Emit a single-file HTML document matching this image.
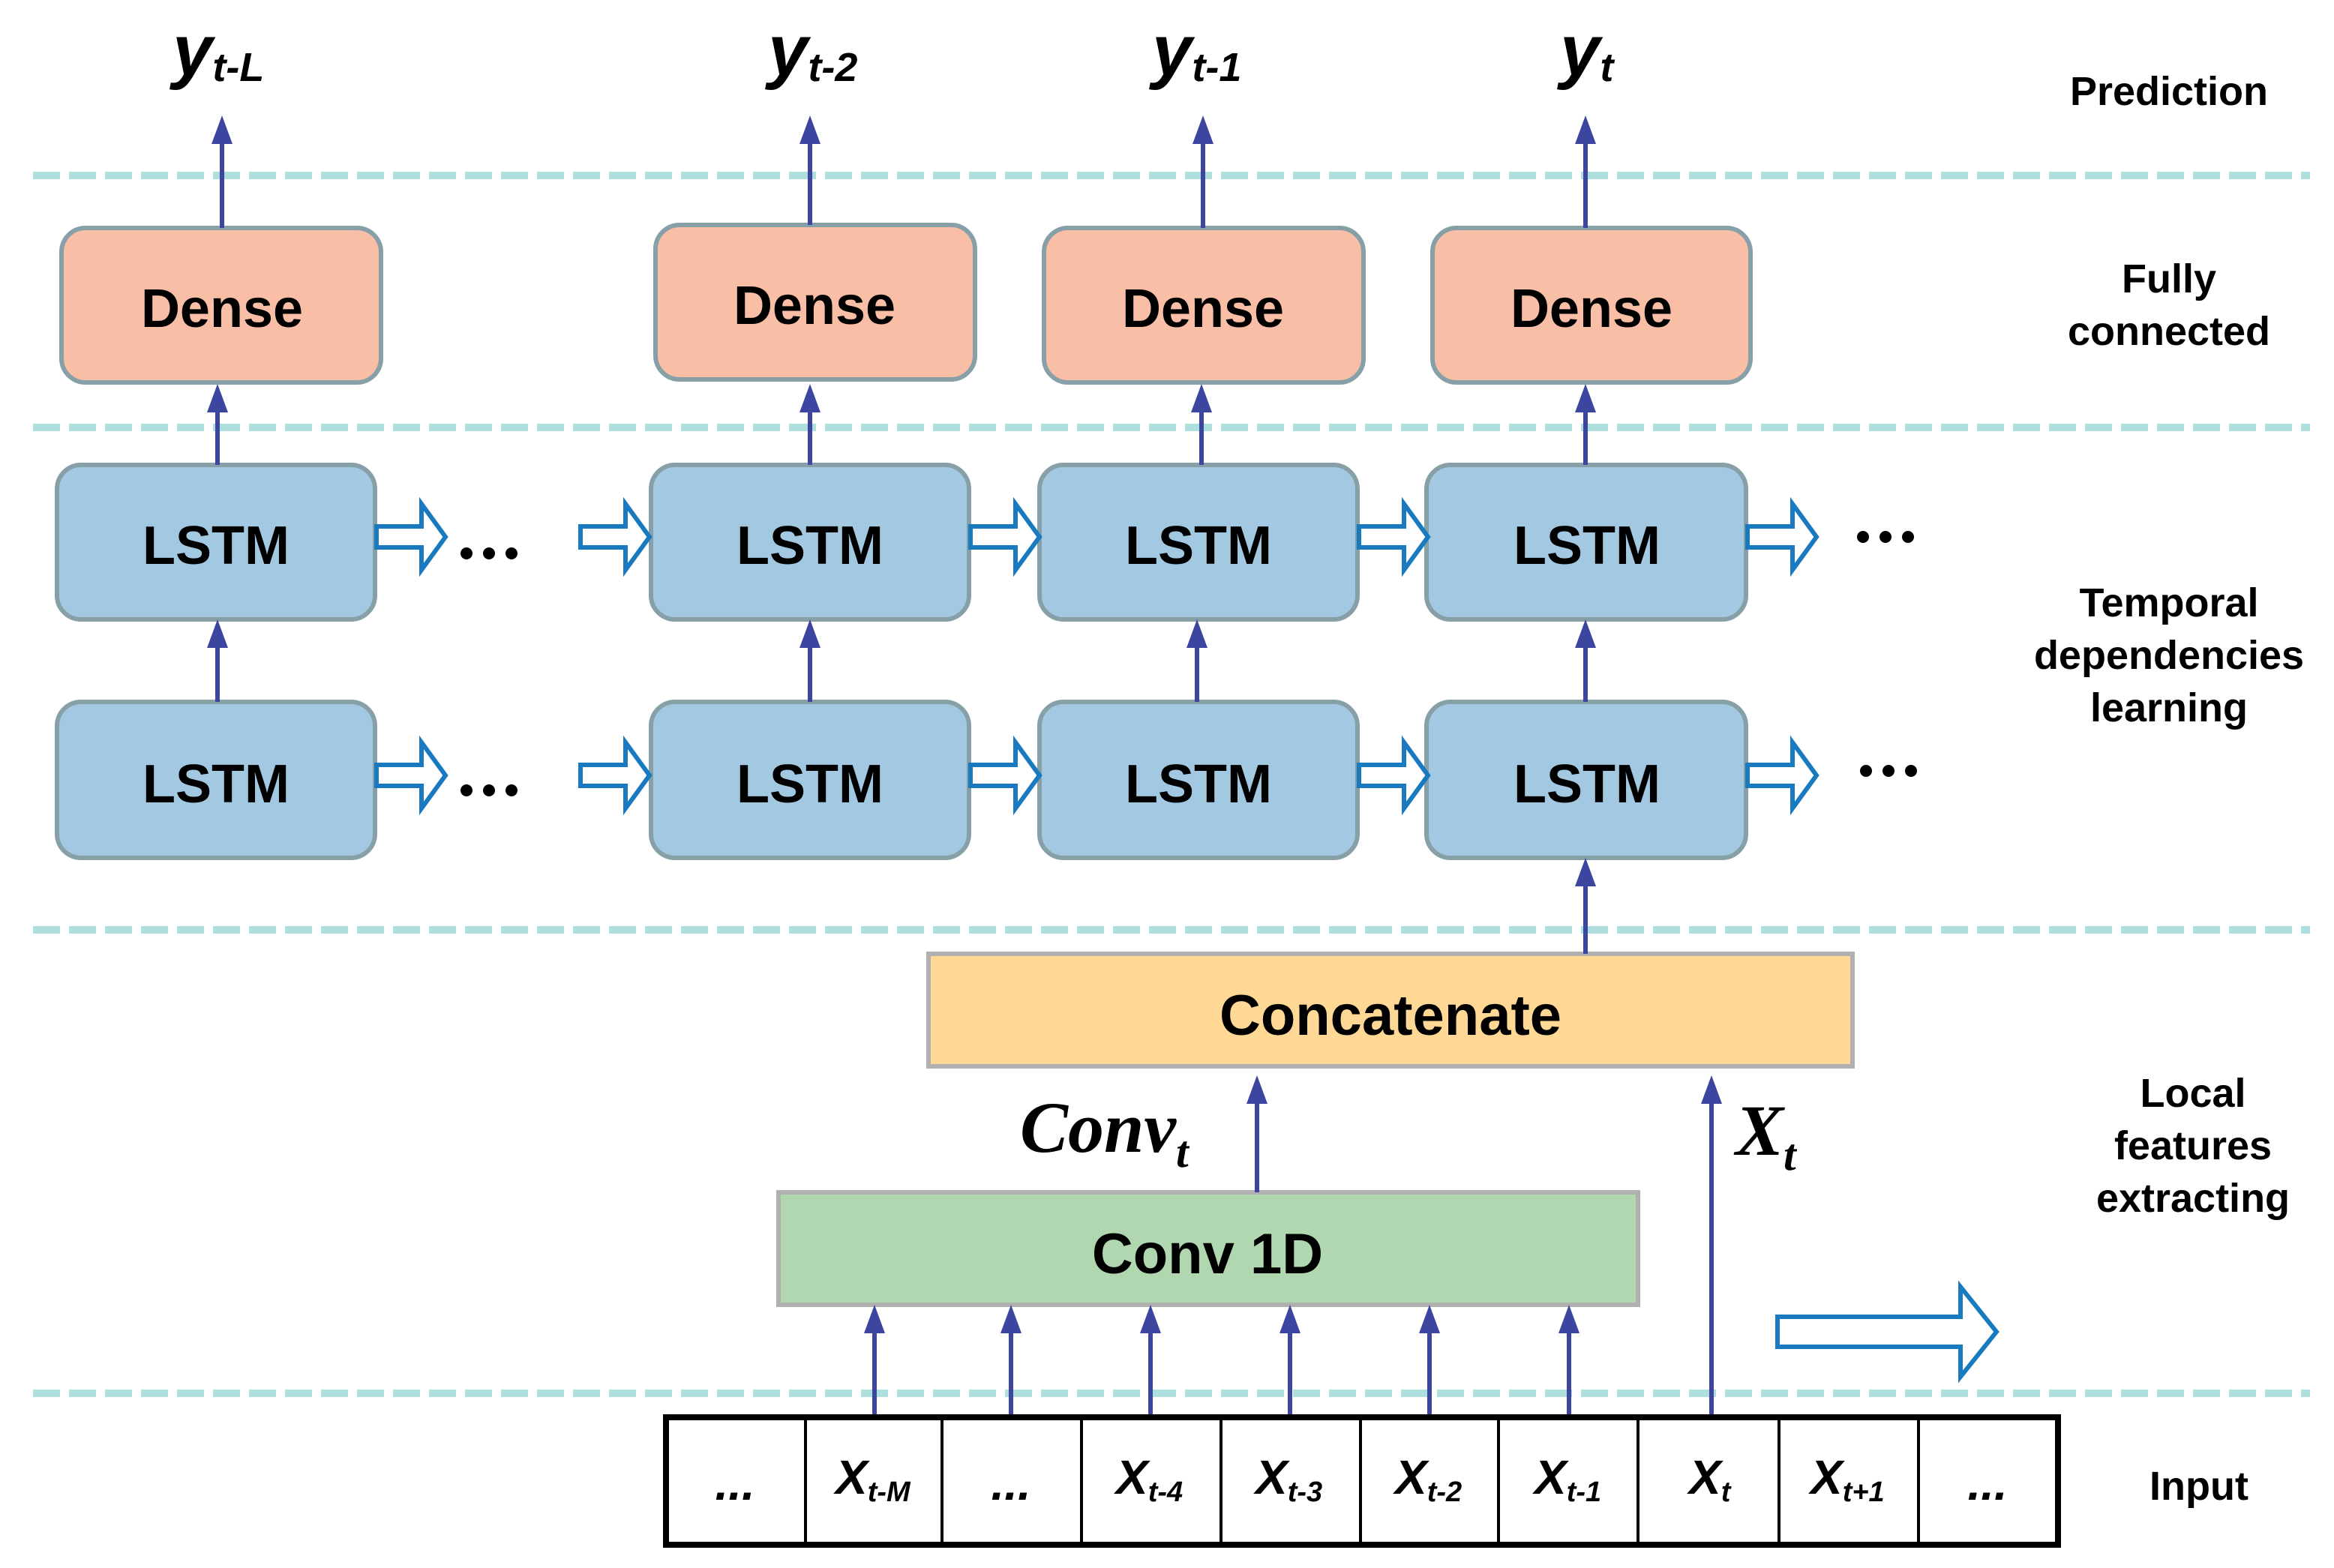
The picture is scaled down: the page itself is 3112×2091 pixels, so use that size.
<!DOCTYPE html>
<html><head><meta charset="utf-8"><style>
html,body{margin:0;padding:0;background:#fff;width:3112px;height:2091px;overflow:hidden}
svg{display:block}
text{font-family:"Liberation Sans",sans-serif;font-weight:bold;fill:#000}
.lab{font-size:27px}
.box{font-size:36px}
.ital{font-style:italic}
</style></head><body>
<svg width="3112" height="2091" viewBox="0 0 1556 1045.5" xmlns="http://www.w3.org/2000/svg">
<g stroke="#afdede" stroke-width="5" stroke-dasharray="18 6">
<line x1="22" y1="117" x2="1540" y2="117"/>
<line x1="22" y1="285" x2="1540" y2="285"/>
<line x1="22" y1="620" x2="1540" y2="620"/>
<line x1="22" y1="929" x2="1540" y2="929"/>
</g>
<g fill="#f8bea6" stroke="#87a0a8" stroke-width="3">
<rect x="41" y="152" width="213" height="103" rx="16"/>
<rect x="437" y="150" width="213" height="103" rx="16"/>
<rect x="696" y="152" width="213" height="103" rx="16"/>
<rect x="955" y="152" width="212" height="103" rx="16"/>
</g>
<g class="box" text-anchor="middle">
<text x="148" y="218">Dense</text>
<text x="543" y="216">Dense</text>
<text x="802" y="218">Dense</text>
<text x="1061" y="218">Dense</text>
</g>
<g fill="#a3c9e2" stroke="#87a0a8" stroke-width="3">
<rect x="38" y="310" width="212" height="103" rx="16"/>
<rect x="434" y="310" width="212" height="103" rx="16"/>
<rect x="693" y="310" width="212" height="103" rx="16"/>
<rect x="951" y="310" width="213" height="103" rx="16"/>
<rect x="38" y="468" width="212" height="104" rx="16"/>
<rect x="434" y="468" width="212" height="104" rx="16"/>
<rect x="693" y="468" width="212" height="104" rx="16"/>
<rect x="951" y="468" width="213" height="104" rx="16"/>
</g>
<g class="box" text-anchor="middle">
<text x="144" y="376">LSTM</text>
<text x="540" y="376">LSTM</text>
<text x="799" y="376">LSTM</text>
<text x="1058" y="376">LSTM</text>
<text x="144" y="535">LSTM</text>
<text x="540" y="535">LSTM</text>
<text x="799" y="535">LSTM</text>
<text x="1058" y="535">LSTM</text>
</g>
<g fill="#fff" stroke="#1a7abf" stroke-width="3" stroke-linejoin="miter">
<path d="M0,-7 H30 V-22 L46,0 L30,22 V7 H0 Z" transform="translate(251,358)"/>
<path d="M0,-7 H30 V-22 L46,0 L30,22 V7 H0 Z" transform="translate(387,358)"/>
<path d="M0,-7 H30 V-22 L46,0 L30,22 V7 H0 Z" transform="translate(647,358)"/>
<path d="M0,-7 H30 V-22 L46,0 L30,22 V7 H0 Z" transform="translate(906,358)"/>
<path d="M0,-7 H30 V-22 L46,0 L30,22 V7 H0 Z" transform="translate(1165,358)"/>
<path d="M0,-7 H30 V-22 L46,0 L30,22 V7 H0 Z" transform="translate(251,517)"/>
<path d="M0,-7 H30 V-22 L46,0 L30,22 V7 H0 Z" transform="translate(387,517)"/>
<path d="M0,-7 H30 V-22 L46,0 L30,22 V7 H0 Z" transform="translate(647,517)"/>
<path d="M0,-7 H30 V-22 L46,0 L30,22 V7 H0 Z" transform="translate(906,517)"/>
<path d="M0,-7 H30 V-22 L46,0 L30,22 V7 H0 Z" transform="translate(1165,517)"/>
<path d="M0,-10 H122 V-30 L146,0 L122,30 V10 H0 Z" transform="translate(1185,888)"/>
</g>
<g fill="#000">
<circle cx="311" cy="369" r="4"/><circle cx="326" cy="369" r="4"/><circle cx="341" cy="369" r="4"/>
<circle cx="311" cy="527" r="4"/><circle cx="326" cy="527" r="4"/><circle cx="341" cy="527" r="4"/>
<circle cx="1242" cy="358" r="4"/><circle cx="1257" cy="358" r="4"/><circle cx="1272" cy="358" r="4"/>
<circle cx="1244" cy="514" r="4"/><circle cx="1259" cy="514" r="4"/><circle cx="1274" cy="514" r="4"/>
</g>
<rect x="619" y="636" width="616" height="75" fill="#fed894" stroke="#b0b0b0" stroke-width="3"/>
<text x="927" y="690" text-anchor="middle" style="font-size:38px">Concatenate</text>
<rect x="519" y="795" width="573" height="75" fill="#b1d7b0" stroke="#b0b0b0" stroke-width="3"/>
<text x="805" y="849" text-anchor="middle" style="font-size:38px">Conv 1D</text>
<g stroke="#3c46a0" stroke-width="3">
<line x1="148" y1="152" x2="148" y2="90"/>
<line x1="540" y1="150" x2="540" y2="90"/>
<line x1="802" y1="152" x2="802" y2="90"/>
<line x1="1057" y1="152" x2="1057" y2="90"/>
<line x1="145" y1="310" x2="145" y2="268"/>
<line x1="540" y1="310" x2="540" y2="268"/>
<line x1="801" y1="310" x2="801" y2="268"/>
<line x1="1057" y1="310" x2="1057" y2="268"/>
<line x1="145" y1="468" x2="145" y2="425"/>
<line x1="540" y1="468" x2="540" y2="425"/>
<line x1="798" y1="468" x2="798" y2="425"/>
<line x1="1057" y1="468" x2="1057" y2="425"/>
<line x1="1057" y1="636" x2="1057" y2="584"/>
<line x1="838" y1="795" x2="838" y2="729"/>
<line x1="1141" y1="945" x2="1141" y2="729"/>
<line x1="583" y1="945" x2="583" y2="882"/>
<line x1="674" y1="945" x2="674" y2="882"/>
<line x1="767" y1="945" x2="767" y2="882"/>
<line x1="860" y1="945" x2="860" y2="882"/>
<line x1="953" y1="945" x2="953" y2="882"/>
<line x1="1046" y1="945" x2="1046" y2="882"/>
</g>
<g fill="#3c46a0">
<path d="M148,77 l-7,19 h14z"/>
<path d="M540,77 l-7,19 h14z"/>
<path d="M802,77 l-7,19 h14z"/>
<path d="M1057,77 l-7,19 h14z"/>
<path d="M145,256 l-7,19 h14z"/>
<path d="M540,256 l-7,19 h14z"/>
<path d="M801,256 l-7,19 h14z"/>
<path d="M1057,256 l-7,19 h14z"/>
<path d="M145,413 l-7,19 h14z"/>
<path d="M540,413 l-7,19 h14z"/>
<path d="M798,413 l-7,19 h14z"/>
<path d="M1057,413 l-7,19 h14z"/>
<path d="M1057,572 l-7,19 h14z"/>
<path d="M838,717 l-7,19 h14z"/>
<path d="M1141,717 l-7,19 h14z"/>
<path d="M583,870 l-7,19 h14z"/>
<path d="M674,870 l-7,19 h14z"/>
<path d="M767,870 l-7,19 h14z"/>
<path d="M860,870 l-7,19 h14z"/>
<path d="M953,870 l-7,19 h14z"/>
<path d="M1046,870 l-7,19 h14z"/>
</g>
<g class="ital">
<text x="115" y="50" style="font-size:48px">y<tspan dy="4" style="font-size:27px">t-L</tspan></text>
<text x="512" y="50" style="font-size:48px">y<tspan dy="4" style="font-size:27px">t-2</tspan></text>
<text x="768" y="50" style="font-size:48px">y<tspan dy="4" style="font-size:27px">t-1</tspan></text>
<text x="1040" y="50" style="font-size:48px">y<tspan dy="4" style="font-size:27px">t</tspan></text>
</g>
<text x="680" y="768" style="font-family:'Liberation Serif',serif;font-style:italic;font-size:48px">Conv<tspan dy="10" style="font-size:30px">t</tspan></text>
<text x="1157" y="770" style="font-family:'Liberation Serif',serif;font-style:italic;font-size:48px">X<tspan dy="10" style="font-size:30px">t</tspan></text>
<rect x="444" y="945" width="928" height="85" fill="#fff" stroke="#000" stroke-width="4"/>
<g stroke="#000" stroke-width="2">
<line x1="537" y1="945" x2="537" y2="1030"/><line x1="628" y1="945" x2="628" y2="1030"/>
<line x1="721" y1="945" x2="721" y2="1030"/><line x1="814" y1="945" x2="814" y2="1030"/>
<line x1="907" y1="945" x2="907" y2="1030"/><line x1="999" y1="945" x2="999" y2="1030"/>
<line x1="1092" y1="945" x2="1092" y2="1030"/><line x1="1186" y1="945" x2="1186" y2="1030"/>
<line x1="1279" y1="945" x2="1279" y2="1030"/>
</g>
<g class="ital" style="font-size:32px">
<text x="490" y="1000" text-anchor="middle">...</text>
<text x="557" y="996">X<tspan dy="5" style="font-size:19px">t-M</tspan></text>
<text x="674" y="1000" text-anchor="middle">...</text>
<text x="744" y="996">X<tspan dy="5" style="font-size:19px">t-4</tspan></text>
<text x="837" y="996">X<tspan dy="5" style="font-size:19px">t-3</tspan></text>
<text x="930" y="996">X<tspan dy="5" style="font-size:19px">t-2</tspan></text>
<text x="1023" y="996">X<tspan dy="5" style="font-size:19px">t-1</tspan></text>
<text x="1126" y="996">X<tspan dy="5" style="font-size:19px">t</tspan></text>
<text x="1207" y="996">X<tspan dy="5" style="font-size:19px">t+1</tspan></text>
<text x="1325" y="1000" text-anchor="middle">...</text>
</g>
<g class="lab" text-anchor="middle">
<text x="1446" y="70">Prediction</text>
<text x="1446" y="195">Fully</text>
<text x="1446" y="230">connected</text>
<text x="1446" y="411">Temporal</text>
<text x="1446" y="446">dependencies</text>
<text x="1446" y="481">learning</text>
<text x="1462" y="738">Local</text>
<text x="1462" y="773">features</text>
<text x="1462" y="808">extracting</text>
<text x="1466" y="1000">Input</text>
</g>
</svg>
</body></html>
